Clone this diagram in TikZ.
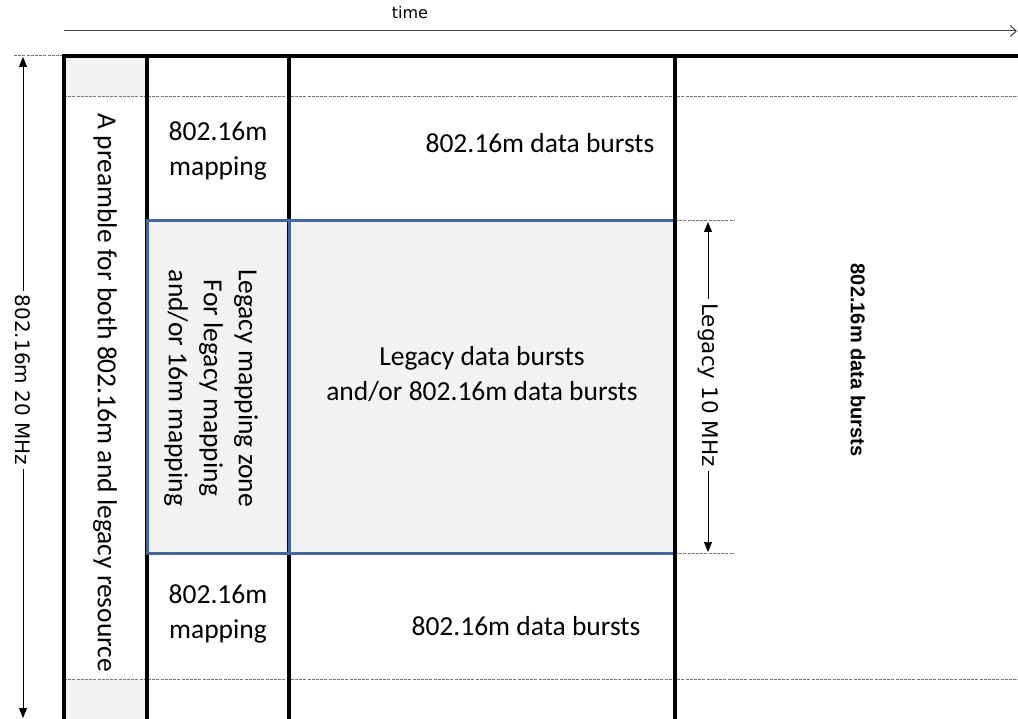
\documentclass[tikz,border=0pt]{standalone}
\usepackage{fontspec}
\setmainfont{Carlito}
\newfontfamily\dvfont{DejaVu Sans}
\newfontfamily\libfont{Liberation Sans}
\usetikzlibrary{arrows.meta}
\definecolor{zoneblue}{RGB}{66,104,156}
\definecolor{lightfill}{RGB}{242,242,242}
\definecolor{dashgray}{RGB}{120,120,120}
\tikzset{
  thickline/.style={line width=3.6pt, black},
  bluezone/.style={line width=3pt, zoneblue},
  guide/.style={line width=1pt, dashgray, dash pattern=on 3pt off 1.2pt},
  dimarrow/.style={line width=1pt, black, {Triangle[width=8pt,length=10pt]}-{Triangle[width=8pt,length=10pt]}},
  body/.style={font=\fontsize{27.5}{35}\selectfont, align=center, inner sep=0pt},
  dimlabel/.style={font=\dvfont\fontsize{20}{24}\selectfont, fill=white, inner sep=4pt, rotate=-90},
}
\begin{document}
\begin{tikzpicture}[x=1pt,y=-1pt]
\useasboundingbox (0,0) rectangle (1018,719);
% shaded regions
\fill[lightfill] (64,56) rectangle (147,97);
\fill[lightfill] (64,679) rectangle (147,719);
\fill[lightfill] (147,221) rectangle (675,553);
% time arrow
\coordinate (t0) at (64,31);
\coordinate (t1) at (1017,31);
\draw[line width=1pt, black!75, -{Straight Barb[length=6pt,width=11pt]}] (t0) -- (t1);
\node[font=\dvfont\fontsize{16}{20}\selectfont] (time) at (410,13) {time};
% dashed guides
\draw[guide] (14,56) -- (64,56);
\draw[guide] (64,97) -- (1018,97);
\draw[guide] (64,679) -- (1018,679);
\draw[guide] (675,221) -- (735,221);
\draw[guide] (675,553) -- (735,553);
% grid lines
\draw[thickline] (64,719) -- (64,56) -- (1018,56);
\draw[thickline] (147,56) -- (147,719);
\draw[thickline] (289,56) -- (289,719);
% blue zone
\draw[bluezone] (147,221) rectangle (675,553);
\draw[bluezone] (289,221) -- (289,553);
\draw[thickline] (675,56) -- (675,719);
% left dimension
\coordinate (a0) at (23,57);
\coordinate (a1) at (23,718);
\draw[dimarrow] (a0) -- (a1);
\node[dimlabel] (bw20) at (23,380) {802.16m 20 MHz};
% legacy dimension
\coordinate (b0) at (708,222);
\coordinate (b1) at (708,552);
\draw[dimarrow] (b0) -- (b1);
\node[dimlabel, font=\dvfont\fontsize{21.5}{26}\selectfont] (bw10) at (708,385) {Legacy 10 MHz};
% texts
\node[body, rotate=-90] (pre) at (105,393) {A preamble for both 802.16m and legacy resource};
\node[body] (map1) at (218,151) {802.16m\\mapping};
\node[body] (data1) at (540,143) {802.16m data bursts};
\node[body, rotate=-90] (lzone) at (211,388) {Legacy mapping zone\\For legacy mapping\\and/or 16m mapping};
\node[body] (ldata) at (482,374) {Legacy data bursts\\and/or 802.16m data bursts};
\node[body] (map2) at (218,614) {802.16m\\mapping};
\node[body] (data2) at (526,626) {802.16m data bursts};
\node[font=\libfont\bfseries\fontsize{20}{24}\selectfont, rotate=-90] (right) at (858,360) {802.16m data bursts};
\end{tikzpicture}
\end{document}
